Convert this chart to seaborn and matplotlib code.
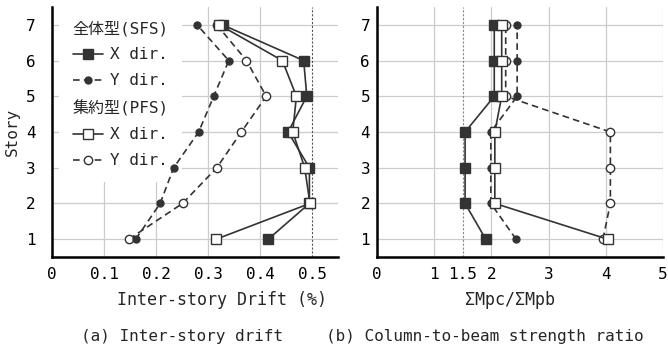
import numpy as np
import pandas as pd
import matplotlib
matplotlib.use("Agg")
import matplotlib.pyplot as plt
from matplotlib.lines import Line2D
import seaborn as sns

# ---------------- data ----------------
stories = [1, 2, 3, 4, 5, 6, 7]

drift_sfs_x = [0.416, 0.495, 0.495, 0.454, 0.490, 0.484, 0.328]
drift_sfs_y = [0.161, 0.208, 0.234, 0.282, 0.311, 0.340, 0.279]
drift_pfs_x = [0.316, 0.496, 0.486, 0.463, 0.470, 0.443, 0.322]
drift_pfs_y = [0.148, 0.251, 0.317, 0.364, 0.412, 0.374, 0.317]

ratio_sfs_x = [1.90, 1.54, 1.54, 1.54, 2.05, 2.05, 2.05]
ratio_sfs_y = [2.43, 1.99, 1.99, 1.99, 2.45, 2.45, 2.45]
ratio_pfs_x = [4.03, 2.06, 2.06, 2.06, 2.18, 2.18, 2.18]
ratio_pfs_y = [3.95, 4.08, 4.08, 4.08, 2.25, 2.25, 2.25]

drift_ticks = [0, 0.1, 0.2, 0.3, 0.4, 0.5]
drift_ticklabels = ["0", "0.1", "0.2", "0.3", "0.4", "0.5"]
ratio_ticks = [0, 1, 1.5, 2, 3, 4, 5]
ratio_ticklabels = ["0", "1", "1.5", "2", "3", "4", "5"]

legend_labels = ["全体型(SFS)", "X dir.", "Y dir.", "集約型(PFS)", "X dir.", "Y dir."]
xlabel_a = "Inter-story Drift (%)"
xlabel_b = "ΣMpc/ΣMpb"
caption_a = "(a) Inter-story drift"
caption_b = "(b) Column-to-beam strength ratio"
ylabel = "Story"

# ---------------- style ----------------
sns.set_theme(style="white")
plt.rcParams["font.family"] = ["DejaVu Sans Mono", "Noto Sans CJK JP"]

DARK = "#333333"
series_keys = ["sfs_x", "sfs_y", "pfs_x", "pfs_y"]
series_z = [5, 4, 6, 3]
series_styles = {
    "sfs_x": dict(marker="s", ms=6.5, mfc=DARK, mec=DARK, ls="-"),
    "sfs_y": dict(marker="o", ms=5.0, mfc=DARK, mec=DARK, ls=(0, (4, 2.5))),
    "pfs_x": dict(marker="s", ms=6.5, mfc="white", mec=DARK, ls="-"),
    "pfs_y": dict(marker="o", ms=6.0, mfc="white", mec=DARK, ls=(0, (4, 2.5))),
}

W, H = 668, 357
fig = plt.figure(figsize=(W / 100, H / 100), dpi=100)

def px_axes(x0, x1, y0, y1):
    return fig.add_axes([x0 / W, 1 - y1 / H, (x1 - x0) / W, (y1 - y0) / H])

ax1 = px_axes(52, 338, 7, 257)
ax2 = px_axes(377, 663, 7, 257)

def draw_series(ax, xs, key, zorder):
    st = series_styles[key]
    df = pd.DataFrame({"val": xs, "story": stories})
    sns.lineplot(data=df, x="val", y="story", orient="y", sort=False, ax=ax,
                 color=DARK, linewidth=1.2, linestyle=st["ls"],
                 marker=st["marker"], markersize=st["ms"],
                 markerfacecolor=st["mfc"], markeredgecolor=st["mec"],
                 markeredgewidth=1.0, zorder=zorder, legend=False)

for ax, data in [(ax1, [drift_sfs_x, drift_sfs_y, drift_pfs_x, drift_pfs_y]),
                 (ax2, [ratio_sfs_x, ratio_sfs_y, ratio_pfs_x, ratio_pfs_y])]:
    for xs, key, z in zip(data, series_keys, series_z):
        draw_series(ax, xs, key, z)

ax1.axvline(0.5, color="#555555", lw=0.8, ls=(0, (2, 1.5)), zorder=2)
ax2.axvline(1.5, color="#888888", lw=0.8, ls=(0, (2, 1.5)), zorder=2)

for ax, ticks, labels, xlim in [(ax1, drift_ticks, drift_ticklabels, (0, 0.55)),
                                (ax2, ratio_ticks, ratio_ticklabels, (0, 5))]:
    ax.set_xlim(*xlim)
    ax.set_ylim(0.5, 7.5)
    ax.set_xticks(ticks)
    ax.set_xticklabels(labels)
    ax.set_yticks(stories)
    ax.set_yticklabels([str(s) for s in stories])
    ax.grid(True, color="#cccccc", lw=0.9, zorder=0)
    ax.set_axisbelow(True)
    for s in ["top", "right"]:
        ax.spines[s].set_visible(False)
    for s in ["left", "bottom"]:
        ax.spines[s].set_color("black")
        ax.spines[s].set_linewidth(1.8)
    ax.tick_params(axis="both", labelsize=11.5, colors="black", length=3,
                   width=0.8, direction="out")
    ax.tick_params(axis="x", pad=4)
    ax.set_xlabel("")
    ax.set_ylabel("")

ax1.tick_params(axis="y", pad=9)
ax2.tick_params(axis="y", pad=2)
for line, t in zip(ax2.get_xgridlines(), ratio_ticks):
    if t == 1.5:
        line.set_visible(False)
for line, t in zip(ax1.get_xgridlines(), drift_ticks):
    if t == 0.5:
        line.set_visible(False)

ax1.set_ylabel(ylabel, fontsize=11.5, labelpad=4)

# legend with group headers
blank = Line2D([], [], linestyle="none", marker=None)
def handle(key):
    st = series_styles[key]
    return Line2D([], [], color=DARK, lw=1.2, ls=st["ls"], marker=st["marker"],
                  ms=st["ms"], mfc=st["mfc"], mec=st["mec"], mew=1.0)
handles = [blank, handle("sfs_x"), handle("sfs_y"), blank, handle("pfs_x"), handle("pfs_y")]
leg_fs = 11.5
leg = ax1.legend(handles, legend_labels, loc="upper left", bbox_to_anchor=(0.025, 1.0),
                 borderaxespad=0.0, borderpad=0.85, fontsize=leg_fs, frameon=True,
                 facecolor="white", edgecolor="none", framealpha=1.0, fancybox=False,
                 handlelength=1.9, handletextpad=0.45, labelspacing=0.7)
leg.set_zorder(1)  # above the grid, below the data lines
# header rows: drop the (empty) handle box so the text starts at the left edge
try:
    rows = []
    for col in leg._legend_handle_box.get_children():
        rows.extend(col.get_children())
    for i in (0, 3):
        row = rows[i]
        row._children = [row._children[1]]
except Exception:
    pass

# axis titles & captions
fig.text(222 / W, 1 - 300 / H, xlabel_a, ha="center", va="center", fontsize=12)
fig.text(510 / W, 1 - 300 / H, xlabel_b, ha="center", va="center", fontsize=12)
fig.text(182 / W, 1 - 336 / H, caption_a, ha="center", va="center", fontsize=11.5)
fig.text(485 / W, 1 - 336 / H, caption_b, ha="center", va="center", fontsize=11.5)

fig.savefig("out.png", dpi=100, facecolor="white")
